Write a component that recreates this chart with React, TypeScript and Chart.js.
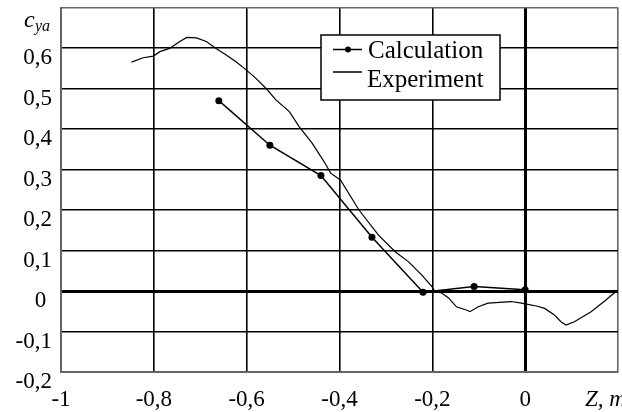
import React, { useEffect, useRef } from "react";
import { Chart, registerables } from "chart.js";

Chart.register(...registerables);

// Calculation (dots)
const calcX = [-0.66, -0.55, -0.44, -0.33, -0.22, -0.11, 0.0];
const calcY = [0.47, 0.36, 0.285, 0.133, -0.003, 0.011, 0.003];

// Experiment (continuous line)
const expX = [
  -0.848, -0.823, -0.801, -0.787, -0.766, -0.744, -0.729, -0.708, -0.687, -0.666,
  -0.644, -0.623, -0.601, -0.58, -0.558, -0.537, -0.508, -0.487, -0.459, -0.433,
  -0.419, -0.398, -0.358, -0.316, -0.28, -0.251, -0.223, -0.201, -0.194, -0.18,
  -0.165, -0.148, -0.127, -0.119, -0.101, -0.08, -0.055, -0.03, -0.008, 0.006,
  0.024, 0.042, 0.063, 0.077, 0.088, 0.106, 0.142, 0.17, 0.195,
];
const expY = [
  0.565, 0.576, 0.58, 0.591, 0.599, 0.616, 0.626, 0.625, 0.616, 0.599,
  0.583, 0.566, 0.546, 0.525, 0.5, 0.472, 0.443, 0.406, 0.365, 0.319,
  0.291, 0.274, 0.2, 0.138, 0.097, 0.072, 0.04, 0.011, -0.002, -0.005,
  -0.017, -0.039, -0.047, -0.051, -0.039, -0.03, -0.028, -0.026, -0.03, -0.033,
  -0.037, -0.043, -0.059, -0.076, -0.084, -0.076, -0.051, -0.026, -0.002,
];

const seriesNames = ["Calculation", "Experiment"];
const xMin = -1, xMax = 0.2, xStep = 0.2;
const yMin = -0.2, yMax = 0.7, yStep = 0.1;
const yTitleMain = "c";
const yTitleSub = "ya";
const xTitle = "Z, m";

const FONT = '"Liberation Serif", "Times New Roman", serif';

const fmt = (v: number) => String(Number(v.toFixed(1))).replace(".", ",");

const overlay = {
  id: "overlay",
  afterDraw(chart: any) {
    const ctx = chart.ctx;
    ctx.save();
    ctx.fillStyle = "#000";
    ctx.textBaseline = "alphabetic";
    ctx.textAlign = "left";
    // y title
    ctx.font = `italic 24px ${FONT}`;
    ctx.fillText(yTitleMain, 24, 27);
    ctx.font = `italic 16px ${FONT}`;
    ctx.fillText(yTitleSub, 35, 31);
    // x title
    ctx.font = `italic 23px ${FONT}`;
    ctx.fillText(xTitle, 585, 406);
    // legend
    const bx = 321, by = 35, bw = 179, bh = 65;
    ctx.fillStyle = "#fff";
    ctx.fillRect(bx, by, bw, bh);
    ctx.strokeStyle = "#000";
    ctx.lineWidth = 1.5;
    ctx.strokeRect(bx, by, bw, bh);
    ctx.lineWidth = 1.5;
    ctx.beginPath();
    ctx.moveTo(333, 49.5);
    ctx.lineTo(362, 49.5);
    ctx.stroke();
    ctx.fillStyle = "#000";
    ctx.beginPath();
    ctx.arc(348, 49.5, 3, 0, Math.PI * 2);
    ctx.fill();
    ctx.lineWidth = 1.5;
    ctx.beginPath();
    ctx.moveTo(333, 72);
    ctx.lineTo(362, 72);
    ctx.stroke();
    ctx.font = `25px ${FONT}`;
    ctx.fillText(seriesNames[0], 368, 58);
    ctx.fillText(seriesNames[1], 367, 87);
    ctx.restore();
  },
};

export default function App() {
  const ref = useRef<HTMLCanvasElement | null>(null);
  useEffect(() => {
    if (!ref.current) return;
    const isZero = (v: number) => Math.abs(v) < 1e-9;
    const gridColor = (min: number, max: number) => (c: any) => {
      const v = c.tick ? c.tick.value : 0;
      return Math.abs(v - min) < 1e-9 || Math.abs(v - max) < 1e-9 ? "#666" : "#000";
    };
    const gridWidth = (c: any) => {
      const v = c.tick ? c.tick.value : 1;
      return isZero(v) ? 3 : 1.6;
    };
    const chart = new Chart(ref.current, {
      type: "line",
      data: {
        datasets: [
          {
            label: seriesNames[0],
            data: calcX.map((x, i) => ({ x, y: calcY[i] })),
            borderColor: "#000",
            backgroundColor: "#000",
            borderWidth: 1.5,
            pointRadius: 3.5,
            pointBackgroundColor: "#000",
            pointBorderWidth: 0,
            tension: 0,
          },
          {
            label: seriesNames[1],
            data: expX.map((x, i) => ({ x, y: expY[i] })),
            borderColor: "#000",
            borderWidth: 1.2,
            pointRadius: 0,
            tension: 0,
          },
        ],
      },
      options: {
        animation: false,
        responsive: false,
        devicePixelRatio: 1,
        layout: { padding: { left: 8, right: 2, top: 7.5, bottom: 0 } },
        plugins: { legend: { display: false }, tooltip: { enabled: false } },
        scales: {
          x: {
            type: "linear",
            min: xMin,
            max: xMax,
            afterFit(scale: any) {
              scale.height = 40;
              scale.paddingLeft = 0;
              scale.paddingRight = 0;
            },
            border: { display: true, color: "#666", width: 2 },
            grid: { color: gridColor(xMin, xMax), lineWidth: gridWidth, drawTicks: false },
            ticks: {
              stepSize: xStep,
              padding: 14,
              maxRotation: 0,
              autoSkip: false,
              color: "#000",
              font: { family: FONT, size: 23 },
              callback: (v: any) => (Math.abs(v - xMax) < 1e-9 ? "" : fmt(v)),
            },
          },
          y: {
            type: "linear",
            min: yMin,
            max: yMax,
            afterFit(scale: any) {
              scale.width = 53;
              scale.paddingTop = 0;
              scale.paddingBottom = 0;
            },
            border: { display: true, color: "#666", width: 2 },
            grid: { color: gridColor(yMin, yMax), lineWidth: gridWidth, drawTicks: false },
            ticks: {
              stepSize: yStep,
              padding: 9,
              labelOffset: 10,
              autoSkip: false,
              color: "#000",
              font: { family: FONT, size: 23 },
              callback: (v: any) => {
                if (Math.abs(v - yMax) < 1e-9) return "";
                if (Math.abs(v) < 1e-9) return "0 ";
                return fmt(v);
              },
            },
          },
        },
      },
      plugins: [overlay],
    } as any);
    return () => chart.destroy();
  }, []);
  return (
    <div style={{ position: "absolute", left: 0, top: 0, width: 622, height: 412, background: "#fff" }}>
      <canvas ref={ref} width={622} height={412} style={{ width: 622, height: 412, display: "block" }} />
    </div>
  );
}
